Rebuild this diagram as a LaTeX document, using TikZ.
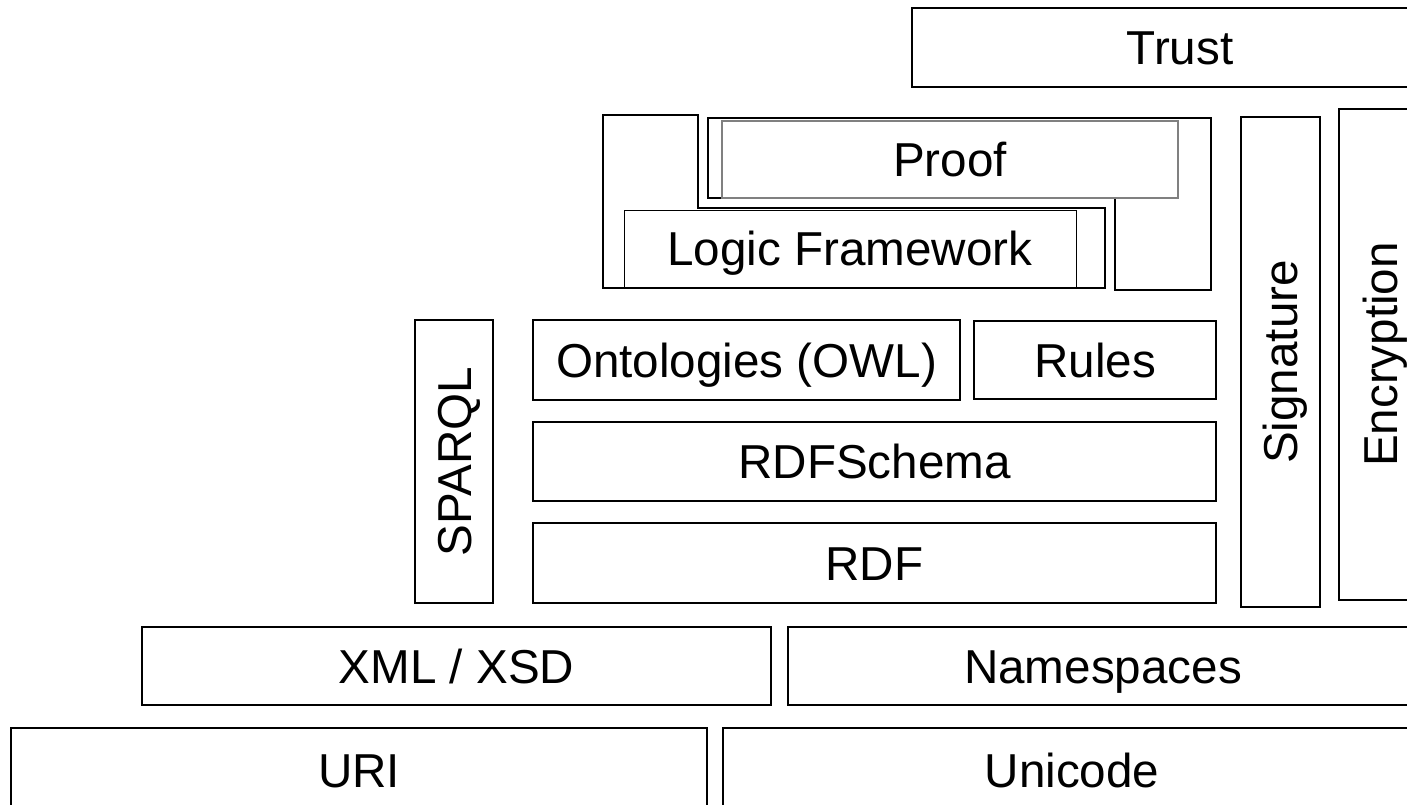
\documentclass[tikz,border=0pt]{standalone}
\usepackage{fontspec}
\setmainfont{Liberation Sans}
\begin{document}
\begin{tikzpicture}[x=1pt,y=-1pt,
  lay/.style={draw=black, line width=1.6pt, inner sep=0pt, outer sep=0pt,
    font=\fontsize{47.6pt}{57pt}\selectfont, text height=34pt, text depth=0pt},
  inner/.style={lay, line width=1pt},
  grayin/.style={lay, draw=gray, line width=1.6pt},
  outline/.style={draw=black, line width=1.6pt, line join=miter}]
\useasboundingbox (0,0) rectangle (1407,805);
\clip (0,0) rectangle (1407,805);
\fill[white] (0,0) rectangle (1407,805);

\node[lay, minimum width=536pt, minimum height=79pt] (trust) at (1180,47.5) {Trust};

% Proof group
\coordinate (p1) at (708,118);
\coordinate (p2) at (1211,118);
\coordinate (p3) at (1211,290);
\coordinate (p4) at (1115,290);
\coordinate (p5) at (1115,198);
\coordinate (p6) at (708,198);
\draw[outline] (p1) -- (p2) -- (p3) -- (p4) -- (p5) -- (p6) -- cycle;
\node[grayin, minimum width=456pt, minimum height=77pt] (proof) at (950,159.5) {Proof};

% Logic framework group
\coordinate (l1) at (603,115);
\coordinate (l2) at (698,115);
\coordinate (l3) at (698,208);
\coordinate (l4) at (1105,208);
\coordinate (l5) at (1105,288);
\coordinate (l6) at (603,288);
\draw[outline] (l1) -- (l2) -- (l3) -- (l4) -- (l5) -- (l6) -- cycle;
\node[inner, minimum width=452pt, minimum height=77pt] (logic) at (850,248.5) {Logic Framework};

\node[lay, rotate=90, minimum width=490pt, minimum height=79pt] (sig) at (1280.5,362) {Signature};
\node[lay, rotate=90, minimum width=491pt, minimum height=82pt] (enc) at (1380,354.5) {Encryption};
\node[lay, rotate=90, minimum width=283pt, minimum height=78pt] (sparql) at (454,461.5) {SPARQL};

\node[lay, minimum width=427pt, minimum height=80pt] (owl) at (746.5,360) {Ontologies (OWL)};
\node[lay, minimum width=242pt, minimum height=78pt] (rules) at (1095,360) {Rules};
\node[lay, minimum width=683pt, minimum height=79pt] (rdfs) at (874.5,461.5) {RDFSchema};
\node[lay, minimum width=683pt, minimum height=80pt] (rdf) at (874.5,563) {RDF};

\node[lay, minimum width=629pt, minimum height=78pt] (xml) at (456.5,666) {XML / XSD};
\node[lay, minimum width=630pt, minimum height=78pt] (ns) at (1103,666) {Namespaces};

\node[lay, minimum width=696pt, minimum height=84pt] (uri) at (359,770) {URI};
\node[lay, minimum width=698pt, minimum height=84pt] (uni) at (1072,770) {Unicode};
\end{tikzpicture}
\end{document}
